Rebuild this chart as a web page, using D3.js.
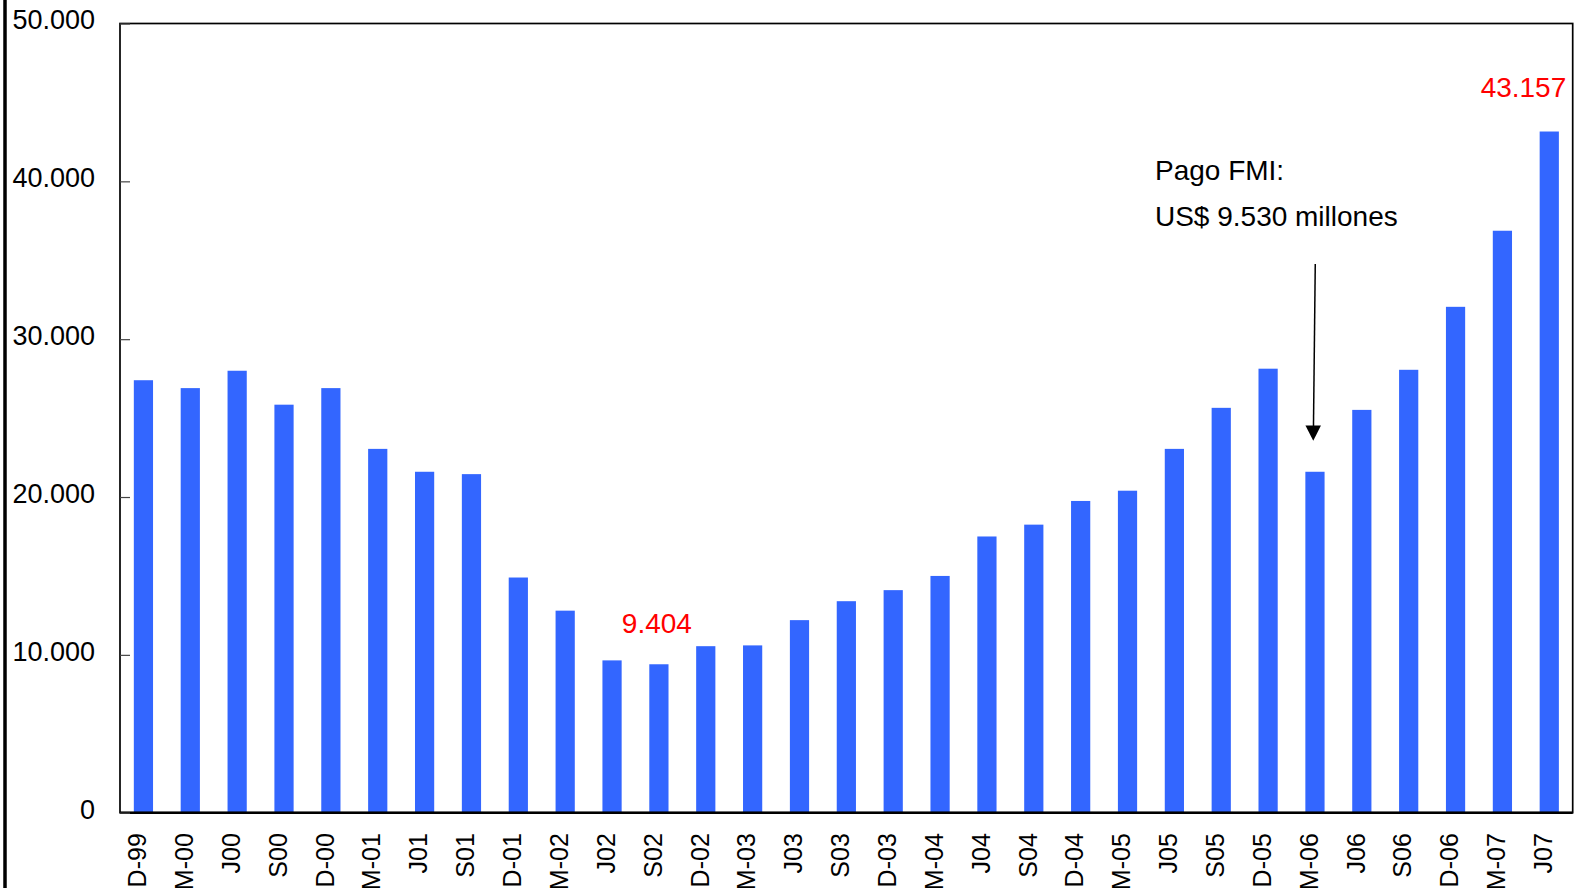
<!DOCTYPE html>
<html><head><meta charset="utf-8">
<script src="https://cdn.jsdelivr.net/npm/d3@7"></script>
<style>body{margin:0;background:#fff}svg{display:block}text{font-family:"Liberation Sans",Arial,sans-serif}</style>
</head><body>
<svg id="c" width="1591" height="888"></svg>
<script>
const categories = ["D-99","M-00","J00","S00","D-00","M-01","J01","S01","D-01","M-02","J02","S02","D-02","M-03","J03","S03","D-03","M-04","J04","S04","D-04","M-05","J05","S05","D-05","M-06","J06","S06","D-06","M-07","J07"];
const reserves = [27400,26900,28000,25850,26900,23050,21600,21450,14900,12800,9650,9404,10550,10600,12200,13400,14100,15000,17500,18250,19750,20400,23050,25650,28130,21600,25520,28060,32050,36870,43157];
const yTicks = [0,10000,20000,30000,40000,50000];
const yTickLabels = ["0","10.000","20.000","30.000","40.000","50.000"];
const highlights = [{cat:"S02", text:"9.404"},{cat:"J07", text:"43.157"}];
const noteCat = "M-06";
const noteLines = ["Pago FMI:","US$ 9.530 millones"];

const svg = d3.select("#c");
const L = 120, R = 1572.7, T = 23.5, B = 812.7;
const x = d3.scaleBand().domain(categories).range([L, R]).paddingInner(0.59).paddingOuter(0.295);
const y = d3.scaleLinear().domain([0, 50000]).range([B, T]);

// left thick line
svg.append("line").attr("x1",5).attr("x2",5).attr("y1",0).attr("y2",888).attr("stroke","#000").attr("stroke-width",3.5);

// bars
svg.append("g").selectAll("rect").data(reserves).join("rect")
  .attr("x",(d,i)=>x(categories[i])).attr("width",x.bandwidth())
  .attr("y",d=>y(d)).attr("height",d=>B-y(d)).attr("fill","#3366FF");

// frame
svg.append("rect").attr("x",L).attr("y",T).attr("width",R-L).attr("height",B-T)
  .attr("fill","none").attr("stroke","#000").attr("stroke-width",1.7);
svg.append("line").attr("x1",L).attr("x2",R).attr("y1",B).attr("y2",B).attr("stroke","#000").attr("stroke-width",2.4);

// y axis
const yAxis = d3.axisLeft(y).tickValues(yTicks).tickSize(-10).tickPadding(25)
  .tickFormat((d,i)=>yTickLabels[i]);
const gy = svg.append("g").attr("transform",`translate(${L},0)`).call(yAxis);
gy.select(".domain").remove();
gy.selectAll(".tick line").attr("stroke","#444").attr("stroke-width",1.2);
gy.selectAll(".tick text").attr("font-size",27).attr("fill","#000").attr("dy","0.2em")
  .attr("font-family","'Liberation Sans',Arial,sans-serif");

// x axis labels
const xAxis = d3.axisBottom(x).tickSize(0).tickPadding(0);
const gx = svg.append("g").attr("transform",`translate(0,${B})`).call(xAxis);
gx.select(".domain").remove();
gx.selectAll(".tick text").attr("font-size",25).attr("fill","#000")
  .attr("font-family","'Liberation Sans',Arial,sans-serif")
  .attr("text-anchor","end").attr("transform","translate(-6,20.5) rotate(-90)")
  .attr("x",0).attr("y",0).attr("dy","0.35em");

// highlight labels
const hl = svg.append("g");
hl.append("text").attr("x",x("S02")+x.bandwidth()/2-2).attr("y",y(9404)-31)
  .attr("text-anchor","middle").attr("font-size",28).attr("fill","#FF0000").text(highlights[0].text);
hl.append("text").attr("x",x("J07")+x.bandwidth()/2+17).attr("y",y(43157)-35)
  .attr("text-anchor","end").attr("font-size",28).attr("fill","#FF0000").text(highlights[1].text);

// annotation
const cx = x(noteCat)+x.bandwidth()/2;
const ann = svg.append("g");
ann.append("text").attr("x",cx-160).attr("y",180).attr("font-size",28).attr("fill","#000").text(noteLines[0]);
ann.append("text").attr("x",cx-160).attr("y",226).attr("font-size",28).attr("fill","#000").text(noteLines[1]);
ann.append("line").attr("x1",cx+0.3).attr("y1",264).attr("x2",cx-1.5).attr("y2",428)
  .attr("stroke","#000").attr("stroke-width",1.5);
ann.append("path").attr("d",`M${cx-9.5},425.5 L${cx+6},425.5 L${cx-1.7},440.7 Z`).attr("fill","#000");
</script>
</body></html>
